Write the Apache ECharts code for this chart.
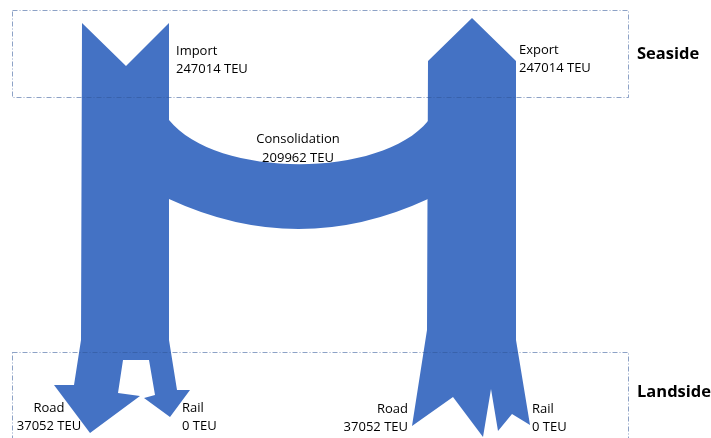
<!DOCTYPE html>
<html>
<head>
<meta charset="utf-8">
<script src="https://cdn.jsdelivr.net/npm/echarts@6/dist/echarts.min.js"></script>
<style>
  html, body { margin: 0; padding: 0; background: #fff; }
  #main { width: 711px; height: 438px; }
</style>
</head>
<body>
<div id="main"></div>
<script>
//  flows (TEU)
const nodeNames = ['Import', 'Export', 'Consolidation', 'Road', 'Rail', 'Road', 'Rail'];
const nodeTEU = [247014, 247014, 209962, 37052, 0, 37052, 0];
//  areas
const zoneNames = ['Seaside', 'Landside'];

const blue = '#4472C4';

//  shape outlines, in the page's own coordinate space (x right, y down)
const importOutline = [
    [82, 23], [126, 66], [169, 23], [169, 340], [177, 390], [190, 390], [170, 417],
    [144, 398], [155, 395], [149, 360], [123, 360], [118, 393], [140, 396],
    [90, 433], [54, 385], [74, 385], [81, 340]
];
const exportOutline = [
    [428, 61], [472, 18], [516, 61], [516, 340], [530, 425], [512, 414],
    [498, 431], [491, 389], [483, 437], [453, 397], [412, 426], [427, 330]
];
//  consolidation band: top cubic curve, bottom quadratic curve
const bandTop = [[169, 120], [216, 178.7], [381, 178.7], [428, 121]];
const bandBottom = [[428, 199], [298.7, 259], [169, 199]];

//  label layout
const labelLayout = [
    {x: 176, y: 51, gap: 18, align: 'left'},
    {x: 519, y: 50.5, gap: 18, align: 'left'},
    {x: 298, y: 139, gap: 19, align: 'center'},
    {x: 49, y: 408, gap: 18, align: 'center'},
    {x: 182, y: 408, gap: 18, align: 'left'},
    {x: 408, y: 409, gap: 18, align: 'right'},
    {x: 532, y: 409, gap: 18, align: 'left'},
];
const zoneLayout = [
    {box: [12, 10, 628, 97], x: 637, y: 54},
    {box: [12, 352, 628, 445], x: 637, y: 392},
];

function renderFlow(params, api) {
    const i = params.dataIndex;
    const c = (p) => api.coord(p);
    if (i < 2) {
        const outline = i === 0 ? importOutline : exportOutline;
        return {
            type: 'polygon',
            shape: {points: outline.map(c)},
            style: {fill: blue},
        };
    }
    const t = bandTop.map(c);
    const b = bandBottom.map(c);
    const a0 = c([164, 120]);
    const a1 = c([433, 121]);
    const a2 = c([433, 199]);
    const a3 = c([164, 199]);
    const f = (p) => p[0] + ' ' + p[1];
    const d = 'M' + f(a0) + ' L' + f(t[0]) +
        ' C' + f(t[1]) + ' ' + f(t[2]) + ' ' + f(t[3]) +
        ' L' + f(a1) + ' L' + f(a2) + ' L' + f(b[0]) +
        ' Q' + f(b[1]) + ' ' + f(b[2]) +
        ' L' + f(a3) + ' Z';
    return {
        type: 'path',
        shape: {pathData: d},
        style: {fill: blue},
    };
}

function renderLabel(params, api) {
    const i = params.dataIndex;
    const l = labelLayout[i];
    const p = api.coord([l.x, l.y]);
    const p2 = api.coord([l.x, l.y + l.gap]);
    const font = '13px "Open Sans"';
    return {
        type: 'group',
        children: [
            {
                type: 'text', x: p[0], y: p[1],
                style: {text: nodeNames[i], font: font, fill: '#000', align: l.align, verticalAlign: 'middle'}
            },
            {
                type: 'text', x: p2[0], y: p2[1],
                style: {text: nodeTEU[i] + ' TEU', font: font, fill: '#000', align: l.align, verticalAlign: 'middle'}
            },
        ]
    };
}

function renderZone(params, api) {
    const i = params.dataIndex;
    const z = zoneLayout[i];
    const p0 = api.coord([z.box[0], z.box[1]]);
    const p1 = api.coord([z.box[2], z.box[3]]);
    const pt = api.coord([z.x, z.y]);
    return {
        type: 'group',
        children: [
            {
                type: 'rect',
                shape: {x: p0[0] + 0.5, y: p0[1] + 0.5, width: p1[0] - p0[0], height: p1[1] - p0[1]},
                style: {fill: 'none', stroke: 'rgba(47,85,151,0.55)', lineWidth: 1, lineDash: [5, 2, 1, 2]},
            },
            {
                type: 'text', x: pt[0], y: pt[1],
                style: {text: zoneNames[i], font: 'bold 16.5px "Open Sans"', fill: '#000', align: 'left', verticalAlign: 'middle'}
            },
        ]
    };
}

function diagramFn() {
    const myChart = echarts.init(document.getElementById('main'));
    myChart.setOption({
        animation: false,
        backgroundColor: '#fff',
        grid: {left: 0, right: 0, top: 0, bottom: 0},
        xAxis: {type: 'value', min: 0, max: 711, show: false},
        yAxis: {type: 'value', min: 0, max: 438, inverse: true, show: false},
        series: [
            {
                type: 'custom',
                name: 'flows',
                clip: false,
                renderItem: renderFlow,
                data: [nodeTEU[0], nodeTEU[1], nodeTEU[2]],
                z: 1,
            },
            {
                type: 'custom',
                name: 'zones',
                clip: false,
                renderItem: renderZone,
                data: zoneNames.map((n, i) => i),
                z: 2,
            },
            {
                type: 'custom',
                name: 'labels',
                clip: false,
                renderItem: renderLabel,
                data: nodeTEU,
                z: 3,
            },
        ]
    });
}

diagramFn();
</script>
</body>
</html>
